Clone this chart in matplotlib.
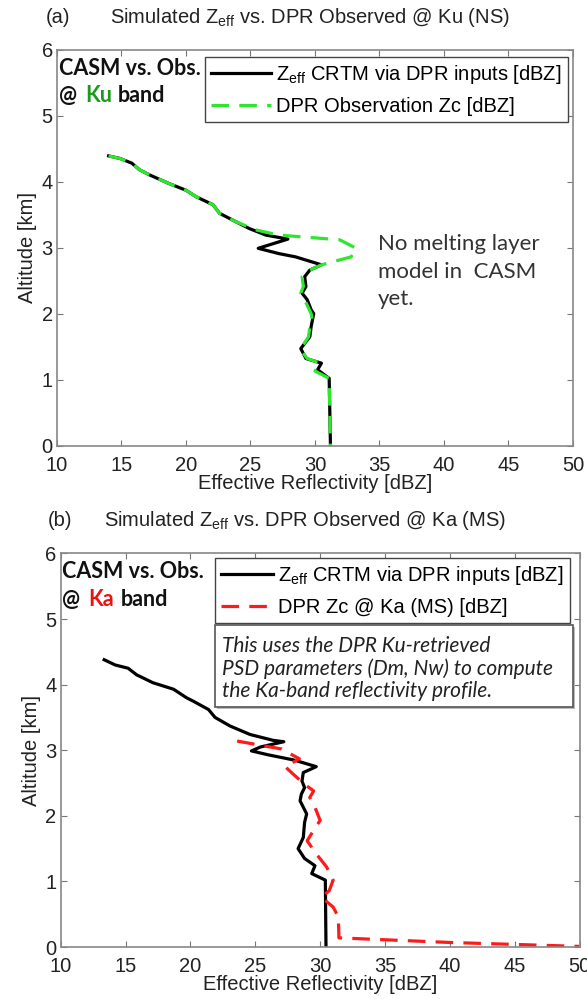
import matplotlib
matplotlib.use('Agg')
from matplotlib import pyplot as plt
from matplotlib.patches import Rectangle

plt.rcParams['font.family'] = ['Liberation Sans', 'DejaVu Sans']
plt.rcParams['mathtext.fontset'] = 'custom'
plt.rcParams['mathtext.rm'] = 'Liberation Sans'

# (a) Ku band: simulated (black) and observed (green) profiles
ku_sim_dbz = [14.0, 14.9, 15.8, 16.4, 17.2, 18.7, 20.0, 20.8, 22.1, 22.6, 23.9, 24.9,
              26.2, 27.9, 25.6, 27.2, 28.5, 30.5, 29.6, 29.2, 29.3, 29.0, 29.4, 29.7,
              29.9, 29.7, 29.6, 29.2, 28.9, 29.3, 30.5, 30.2, 31.1, 31.2]
ku_sim_alt = [4.39, 4.35, 4.28, 4.18, 4.10, 3.97, 3.87, 3.77, 3.65, 3.52, 3.39, 3.29,
              3.19, 3.13, 2.99, 2.91, 2.86, 2.74, 2.66, 2.56, 2.41, 2.31, 2.21, 2.06,
              2.00, 1.80, 1.65, 1.55, 1.47, 1.32, 1.25, 1.15, 1.02, 0.0]
ku_obs_dbz = [14.0, 14.9, 15.8, 16.4, 17.2, 18.7, 20.0, 20.8, 22.1, 22.6, 23.9, 25.4,
              27.2, 31.9, 33.2, 32.8, 30.5, 29.6, 29.0, 29.1, 28.9, 29.2, 29.7, 29.8,
              29.6, 29.5, 29.0, 28.9, 29.4, 30.4, 30.0, 31.1, 31.2]
ku_obs_alt = [4.39, 4.35, 4.28, 4.18, 4.10, 3.97, 3.87, 3.77, 3.65, 3.52, 3.39, 3.27,
              3.19, 3.12, 2.99, 2.86, 2.74, 2.66, 2.56, 2.41, 2.31, 2.21, 2.00, 1.90,
              1.80, 1.65, 1.50, 1.45, 1.32, 1.25, 1.13, 1.02, 0.0]

# (b) Ka band: simulated (black) and observed (red) profiles
ka_sim_dbz = [13.35, 14.2, 15.2, 15.85, 17.1, 18.7, 19.7, 20.2, 21.4, 21.9, 23.05, 24.6,
              26.4, 27.2, 25.4, 24.7, 26.0, 28.0, 29.7, 28.7, 28.6, 28.8, 28.55, 28.45,
              28.96, 28.8, 28.7, 28.3, 28.8, 29.6, 29.35, 30.4, 30.45]
ka_sim_alt = [4.38, 4.30, 4.25, 4.15, 4.03, 3.93, 3.80, 3.75, 3.62, 3.50, 3.37, 3.24,
              3.15, 3.13, 3.05, 2.99, 2.93, 2.85, 2.75, 2.66, 2.53, 2.43, 2.33, 2.23,
              2.03, 1.90, 1.67, 1.50, 1.35, 1.24, 1.12, 1.02, 0.0]
ka_obs_dbz = [23.6, 27.0, 28.4, 27.3, 27.9, 28.8, 29.5, 29.2, 29.6, 30.0, 29.5, 29.0,
              29.7, 30.5, 31.0, 30.7, 30.1, 31.0, 31.4, 31.45, 40.0, 50.0]
ka_obs_alt = [3.14, 3.02, 2.87, 2.75, 2.64, 2.48, 2.38, 2.28, 2.13, 1.93, 1.78, 1.62,
              1.42, 1.22, 1.02, 0.86, 0.76, 0.61, 0.46, 0.14, 0.07, 0.01]

GREEN = '#2ee62e'
RED = '#ff1a1a'
TXT = '#222222'


def style_axes(ax):
    ax.set_xlim(10, 50)
    ax.set_ylim(0, 6)
    ax.set_xticks(range(10, 51, 5))
    ax.set_yticks(range(0, 7))
    ax.tick_params(direction='in', top=True, right=True, labelsize=14.5,
                   length=4, color='#777777', labelcolor=TXT)
    ax.tick_params(axis='x', pad=7.5)
    ax.tick_params(axis='y', pad=3)
    for s in ax.spines.values():
        s.set_color('#888888')
        s.set_linewidth(1.2)
    ax.set_xlabel('Effective Reflectivity [dBZ]', fontsize=14.5, color=TXT, labelpad=-1)
    ax.set_ylabel('Altitude [km]', fontsize=14.5, color=TXT, labelpad=3)


def band_label(ax, band, color, xs):
    kw = dict(transform=ax.transAxes, fontsize=15.5, fontweight='bold',
              family='Lato', va='center', color='#111111')
    ax.text(0.003, 0.953, 'CASM vs. Obs.', **kw)
    ax.text(xs[0], 0.883, '@', **kw)
    ax.text(xs[1], 0.883, band, **{**kw, 'color': color})
    ax.text(xs[2], 0.883, 'band', **kw)


def add_legend(ax, anchor, hl):
    leg = ax.legend(loc='upper right', bbox_to_anchor=anchor, fontsize=14.5,
                    fancybox=False, edgecolor='#444444', handlelength=hl,
                    handletextpad=0.25, borderpad=0.3, labelspacing=0.55,
                    borderaxespad=0, framealpha=1)
    leg.get_frame().set_linewidth(1.0)


fig = plt.figure(figsize=(5.87, 9.99), dpi=100)

# ---- panel (a)
ax1 = fig.add_axes([0.0971, 0.5539, 0.879, 0.3964])
ax1.plot(ku_sim_dbz, ku_sim_alt, color='black', lw=2.3,
         label=r'Z$_{\mathrm{eff}}$ CRTM via DPR inputs [dBZ]')
ax1.plot(ku_obs_dbz, ku_obs_alt, color=GREEN, lw=2.3, dashes=(5.5, 3.2),
         label='DPR Observation Zc [dBZ]')
style_axes(ax1)
add_legend(ax1, (0.990, 0.982), 3.0)
band_label(ax1, 'Ku', '#1a9c1a', (0.003, 0.055, 0.118))
ax1.text(34.9, 3.2, 'No melting layer\nmodel in  CASM\nyet.', fontsize=16,
         family='Lato', va='top', color='#333333', linespacing=1.45)
fig.text(0.078, 0.982, '(a)', fontsize=14.5, va='center', color=TXT)
fig.text(0.187, 0.982, r'Simulated Z$_{\mathrm{eff}}$ vs. DPR Observed @ Ku (NS)',
         fontsize=14.5, va='center', color=TXT)

# ---- panel (b)
ax2 = fig.add_axes([0.1034, 0.052, 0.884, 0.394])
ax2.plot(ka_sim_dbz, ka_sim_alt, color='black', lw=2.3,
         label=r'Z$_{\mathrm{eff}}$ CRTM via DPR inputs [dBZ]')
ax2.plot(ka_obs_dbz, ka_obs_alt, color=RED, lw=2.3, dashes=(5.5, 3.2),
         label='DPR Zc @ Ka (MS) [dBZ]')
style_axes(ax2)
add_legend(ax2, (0.981, 0.988), 2.6)
band_label(ax2, 'Ka', '#ee1111', (0.003, 0.053, 0.116))

# note box with a soft shadow
ax2.add_patch(Rectangle((0.301, 0.604), 0.69, 0.208, transform=ax2.transAxes,
                        fc='#bbbbbb', ec='none', zorder=4))
ax2.add_patch(Rectangle((0.297, 0.610), 0.69, 0.208, transform=ax2.transAxes,
                        fc='white', ec='#555555', lw=1.2, zorder=5))
ax2.text(0.311, 0.708, 'This uses the DPR Ku-retrieved\nPSD parameters (Dm, Nw) to compute\nthe Ka-band reflectivity profile.',
         transform=ax2.transAxes, fontsize=15, style='italic', family='Lato',
         va='center', color=TXT, linespacing=1.15, zorder=6)
fig.text(0.082, 0.479, '(b)', fontsize=14.5, va='center', color=TXT)
fig.text(0.178, 0.479, r'Simulated Z$_{\mathrm{eff}}$ vs. DPR Observed @ Ka (MS)',
         fontsize=14.5, va='center', color=TXT)

fig.savefig('out.png', dpi=100)
